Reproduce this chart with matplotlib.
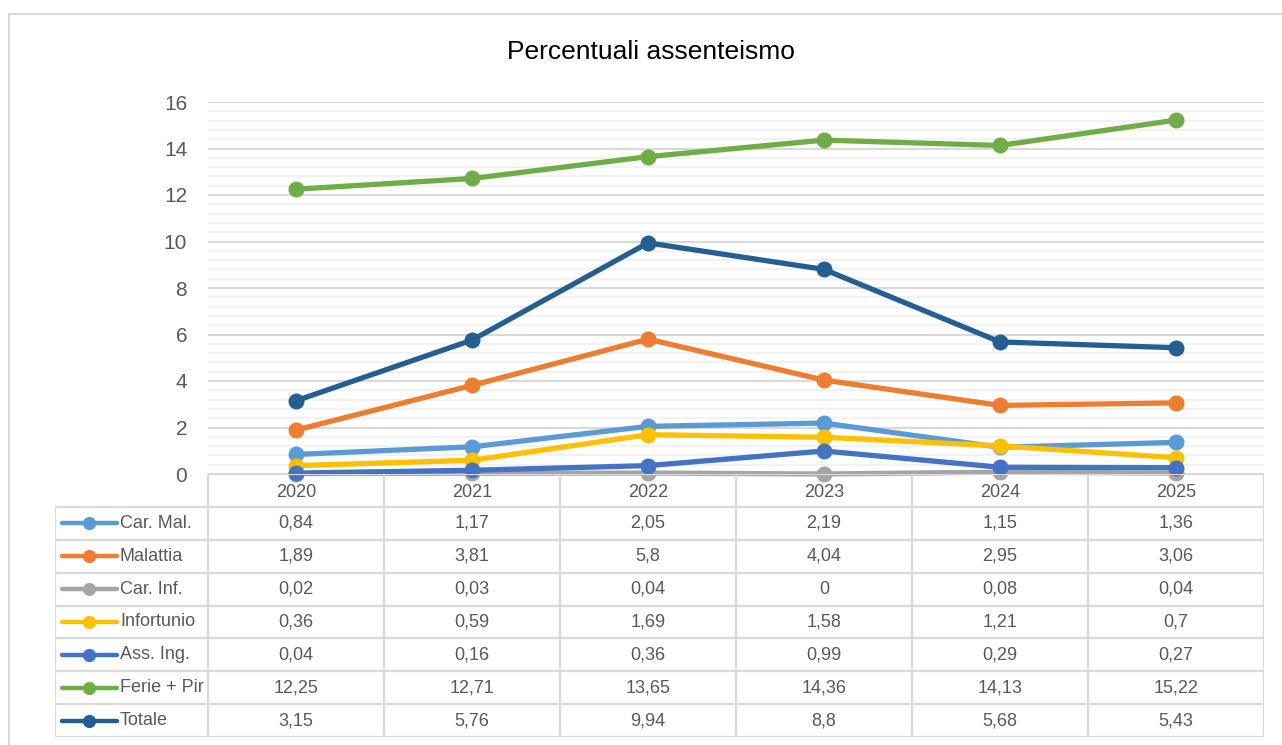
import matplotlib
matplotlib.use("Agg")
import matplotlib.pyplot as plt
from matplotlib.patches import Rectangle
from matplotlib.ticker import MultipleLocator

years = ["2020", "2021", "2022", "2023", "2024", "2025"]
series_names = ["Car. Mal.", "Malattia", "Car. Inf.", "Infortunio", "Ass. Ing.", "Ferie + Pir", "Totale"]
car_mal = [0.84, 1.17, 2.05, 2.19, 1.15, 1.36]
malattia = [1.89, 3.81, 5.8, 4.04, 2.95, 3.06]
car_inf = [0.02, 0.03, 0.04, 0, 0.08, 0.04]
infortunio = [0.36, 0.59, 1.69, 1.58, 1.21, 0.7]
ass_ing = [0.04, 0.16, 0.36, 0.99, 0.29, 0.27]
ferie_pir = [12.25, 12.71, 13.65, 14.36, 14.13, 15.22]
totale = [3.15, 5.76, 9.94, 8.8, 5.68, 5.43]
series_values = [car_mal, malattia, car_inf, infortunio, ass_ing, ferie_pir, totale]
colors = ["#5B9BD5", "#ED7D31", "#A5A5A5", "#FFC000", "#4472C4", "#70AD47", "#255E91"]

TEXT = "#595959"
GRID = "#D9D9D9"
plt.rcParams["font.family"] = ["Liberation Sans", "DejaVu Sans"]

W, H = 1282, 745
fig = plt.figure(figsize=(W / 100, H / 100), dpi=100)

# outer chart border
fig.patches.append(Rectangle((9 / W, -0.05), 1.1, 1 - 14 / H + 0.05, transform=fig.transFigure,
                             fill=False, edgecolor=GRID, lw=1.5))

fig.text(0.508, 1 - 52 / H, "Percentuali assenteismo", ha="center", va="center",
         fontsize=19, color="black")

x0, x1 = 208, 1264
ytop, ybot, tbot = 102, 474, 737
ax = fig.add_axes([x0 / W, 1 - ybot / H, (x1 - x0) / W, (ybot - ytop) / H])
xs = list(range(len(years)))
for name, vals, c in zip(series_names, series_values, colors):
    ax.plot(xs, vals, color=c, lw=3.8, marker="o", ms=10.5, clip_on=False, zorder=3,
            solid_capstyle="round")
ax.set_xlim(-0.5, len(years) - 0.5)
ax.set_ylim(0, 16)
ax.yaxis.set_major_locator(MultipleLocator(2))
ax.yaxis.set_minor_locator(MultipleLocator(0.4))
ax.grid(axis="y", which="major", color=GRID, lw=1.5, zorder=0)
ax.grid(axis="y", which="minor", color="#F2F2F2", lw=1.5, zorder=0)
ax.set_axisbelow(True)
ax.set_xticks([])
ax.tick_params(axis="y", which="both", length=0, labelsize=15, labelcolor=TEXT, pad=15)
for s in ["top", "right", "left", "bottom"]:
    ax.spines[s].set_visible(False)

# data table
tx0 = 55
unit = (x1 - x0) / len(years)
xleft = -0.5 - (x0 - tx0) / unit
tab = fig.add_axes([tx0 / W, 1 - tbot / H, (x1 - tx0) / W, (tbot - ybot) / H])
nrows = len(series_names) + 1
tab.set_xlim(xleft, len(years) - 0.5)
tab.set_ylim(nrows, 0)
tab.axis("off")

lkw = dict(color=GRID, lw=1.6, solid_capstyle="projecting")
tab.plot([-0.5, len(years) - 0.5], [0, 0], **lkw)
for r in range(1, nrows + 1):
    tab.plot([xleft, len(years) - 0.5], [r, r], **lkw)
tab.plot([xleft, xleft], [1, nrows], **lkw)
for i in range(len(years) + 1):
    tab.plot([i - 0.5, i - 0.5], [0, nrows], **lkw)

for i, y in enumerate(years):
    tab.text(i, 0.55, y, ha="center", va="center", fontsize=13, color=TEXT)

lx0 = xleft + (62 - tx0) / unit
lx1 = xleft + (117 - tx0) / unit
ltext = xleft + (120 - tx0) / unit
for r, (name, vals, c) in enumerate(zip(series_names, series_values, colors), start=1):
    tab.plot([lx0, lx1], [r + 0.5, r + 0.5], color=c, lw=3.2, solid_capstyle="round")
    tab.plot([(lx0 + lx1) / 2], [r + 0.5], marker="o", ms=8.5, color=c)
    tab.text(ltext, r + 0.5, name, ha="left", va="center", fontsize=13, color=TEXT)
    for i, v in enumerate(vals):
        tab.text(i, r + 0.5, f"{v:g}".replace(".", ","), ha="center", va="center",
                 fontsize=13, color=TEXT)

fig.savefig("out.png", dpi=100)
